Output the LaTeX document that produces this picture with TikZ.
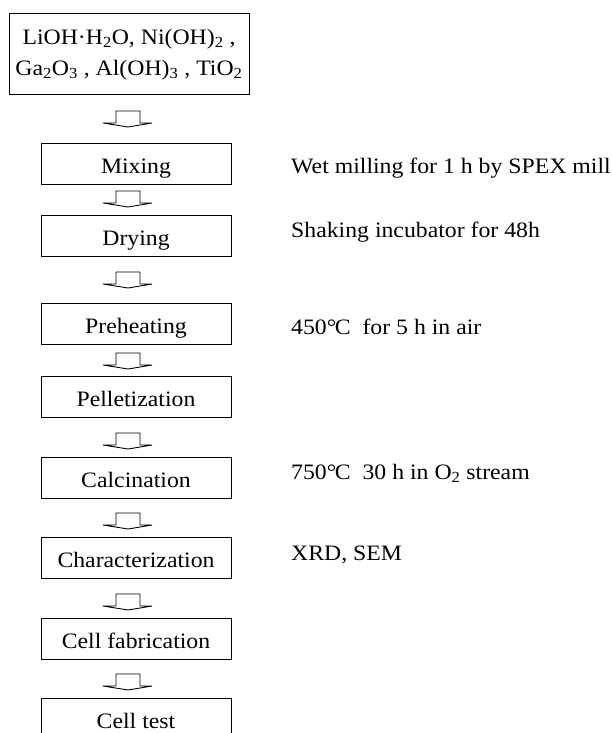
\documentclass[tikz,border=0pt]{standalone}
\usepackage{fontspec}
\setmainfont{Liberation Serif}[FakeStretch=1.08]
\newcommand{\degC}{°\kern-1.5pt C}
\begin{document}
\begin{tikzpicture}[x=1pt,y=-1pt,
  font=\fontsize{22}{31}\selectfont,
  stepbox/.style={draw, line width=1pt, minimum width=190pt, minimum height=41pt,
    inner sep=0pt, text height=20pt, text depth=1pt},
  topbox/.style={draw, line width=1pt, minimum width=240pt, minimum height=81pt,
    inner sep=0pt, align=center},
  note/.style={anchor=base west, inner sep=0pt},
  barrow/.pic={\draw[line width=0.9pt, line join=miter]
      (-12,0) -- (12,0) -- (12,12) -- (24,12) -- (0,16) -- (-25,12) -- (-12,12) -- cycle;}]
\useasboundingbox (0,0) rectangle (611,733);
\clip (0,0) rectangle (611,733);
\fill[white] (0,0) rectangle (611,733);

\node[topbox] (raw) at (129,54.5)
  {\raisebox{-2pt}{LiOH·H\textsubscript{2}O, Ni(OH)\textsubscript{2} ,}\\
   \raisebox{-2pt}{Ga\textsubscript{2}O\textsubscript{3} , Al(OH)\textsubscript{3} , TiO\textsubscript{2}}};

\node[stepbox] (mix)  at (136,163.5) {Mixing};
\node[stepbox] (dry)  at (136,235.5) {Drying};
\node[stepbox] (pre)  at (136,324)   {Preheating};
\node[stepbox] (pel)  at (136,396.5) {Pelletization};
\node[stepbox] (cal)  at (136,477.5) {Calcination};
\node[stepbox] (cha)  at (136,557.5) {Characterization};
\node[stepbox] (fab)  at (136,638.5) {Cell fabrication};
\node[stepbox] (tst)  at (136,719)   {Cell test};

\foreach \y/\n in {111/a1,191/a2,272/a3,353/a4,433/a5,513/a6,594/a7,674/a8}
  \pic (\n) at (128,\y) {barrow};

\node[note] (nmix) at (291,173) {Wet milling for 1 h by SPEX mill};
\node[note] (ndry) at (291,237) {Shaking incubator for 48h};
\node[note] (npre) at (291,334) {450\degC\ \ for 5 h in air};
\node[note] (ncal) at (291,479) {750\degC\ \ 30 h in O\textsubscript{2} stream};
\node[note] (ncha) at (291,560) {XRD, SEM};
\end{tikzpicture}
\end{document}
